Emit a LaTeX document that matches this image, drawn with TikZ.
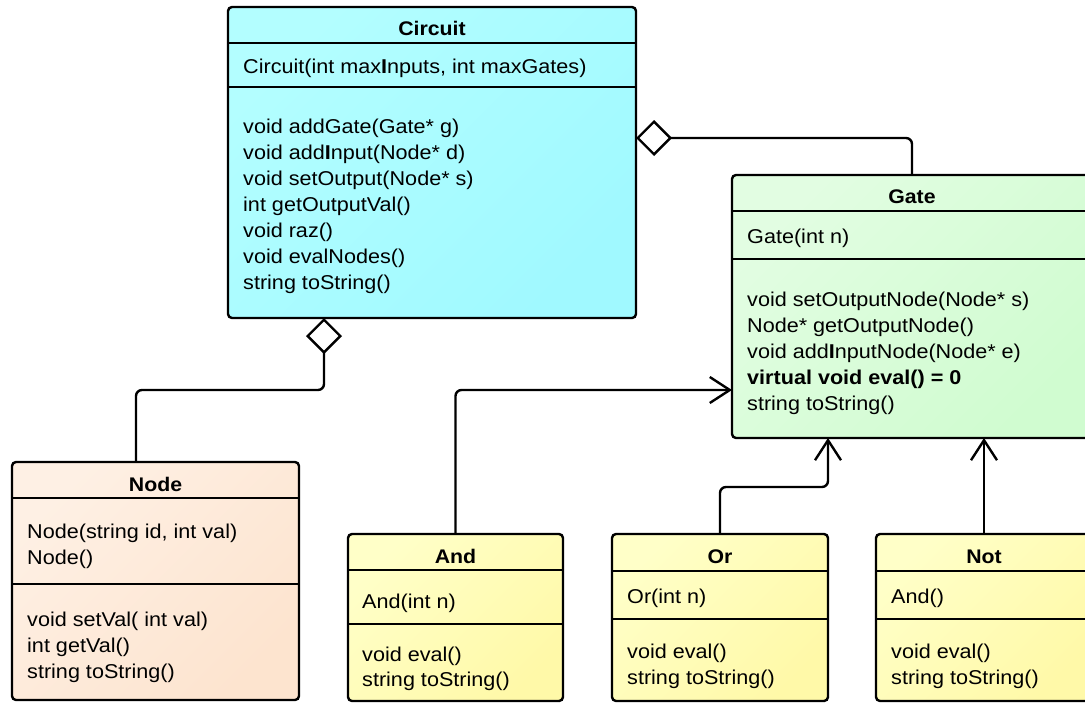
\documentclass[tikz,border=0pt]{standalone}
\usepackage{fontspec}
\setmainfont[FakeStretch=1.08]{Liberation Sans}
\usetikzlibrary{arrows.meta}

\definecolor{cyanA}{HTML}{B3FEFF}
\definecolor{cyanB}{HTML}{A0F9FF}
\definecolor{greenA}{HTML}{E2FDE2}
\definecolor{greenB}{HTML}{D0FCD0}
\definecolor{peachA}{HTML}{FEF0E4}
\definecolor{peachB}{HTML}{FDE4CF}
\definecolor{yellowA}{HTML}{FFFFC8}
\definecolor{yellowB}{HTML}{FFF9A8}

\begin{document}
\begin{tikzpicture}[x=1pt,y=-1pt,
  classbox/.style={draw=black, line width=2.4pt, rounded corners=4pt,
                   inner sep=0pt, outer sep=0pt, anchor=north west},
  cyanfill/.style={top color=cyanA, bottom color=cyanB, shading angle=45},
  greenfill/.style={top color=greenA, bottom color=greenB, shading angle=45},
  peachfill/.style={top color=peachA, bottom color=peachB, shading angle=45},
  yellowfill/.style={top color=yellowA, bottom color=yellowB, shading angle=45},
  divider/.style={line width=2.4pt},
  title/.style={font=\fontsize{19.7}{24}\selectfont\bfseries, anchor=base, inner sep=0pt},
  txt/.style={font=\fontsize{20}{24}\selectfont, anchor=base west, inner sep=0pt},
  link/.style={line width=2.4pt, rounded corners=6pt},
  agg/.style={link, -{Diamond[open, fill=white, length=36pt, width=36pt]}},
  inh/.style={link, -{Straight Barb[length=20pt, width=26pt]}},
]
\useasboundingbox (0,0) rectangle (1085,702);

% ---- class Circuit ----
\node[classbox, cyanfill, minimum width=408pt, minimum height=311pt] (circuit) at (228,7) {};
\draw[divider] (circuit.west |- 0,43) -- (circuit.east |- 0,43);
\draw[divider] (circuit.west |- 0,87) -- (circuit.east |- 0,87);
\node[title] (circuitT) at (432,35) {Circuit};
\node[txt] (circuitC) at (243,73) {Circuit(int max\textbf{I}nputs, int maxGates)};
\foreach \t [count=\i] in {void addGate(Gate* g), void add\textbf{I}nput(Node* d),
    void setOutput(Node* s), int getOutputVal(), void raz(), void evalNodes(),
    string toString()}
  \node[txt] (circuitM\i) at (243,{107+26*\i}) {\t};

% ---- class Gate ----
\node[classbox, greenfill, minimum width=360pt, minimum height=263pt] (gate) at (732,175) {};
\draw[divider] (gate.west |- 0,211) -- (gate.east |- 0,211);
\draw[divider] (gate.west |- 0,259) -- (gate.east |- 0,259);
\node[title] (gateT) at (912,203) {Gate};
\node[txt] (gateC) at (747,243) {Gate(int n)};
\foreach \t [count=\i] in {void setOutputNode(Node* s), Node* getOutputNode(),
    void add\textbf{I}nputNode(Node* e), \textbf{virtual void eval() = 0},
    string toString()}
  \node[txt] (gateM\i) at (747,{280+26*\i}) {\t};

% ---- class Node ----
\node[classbox, peachfill, minimum width=287pt, minimum height=238pt] (nodecls) at (12,462) {};
\draw[divider] (nodecls.west |- 0,498) -- (nodecls.east |- 0,498);
\draw[divider] (nodecls.west |- 0,584) -- (nodecls.east |- 0,584);
\node[title] (nodeT) at (155.5,491) {Node};
\node[txt] (nodeC1) at (27,538) {Node(string id, int val)};
\node[txt] (nodeC2) at (27,564) {Node()};
\foreach \t [count=\i] in {void setVal( int val), int getVal(), string toString()}
  \node[txt] (nodeM\i) at (27,{600+26*\i}) {\t};

% ---- class And ----
\node[classbox, yellowfill, minimum width=215pt, minimum height=167pt] (andcls) at (348,534) {};
\draw[divider] (andcls.west |- 0,570) -- (andcls.east |- 0,570);
\draw[divider] (andcls.west |- 0,624) -- (andcls.east |- 0,624);
\node[title] (andT) at (455.5,563) {And};
\node[txt] (andC) at (362,608) {And(int n)};
\node[txt] (andM1) at (362,661) {void eval()};
\node[txt] (andM2) at (362,686) {string toString()};

% ---- class Or ----
\node[classbox, yellowfill, minimum width=216pt, minimum height=167pt] (orcls) at (612,534) {};
\draw[divider] (orcls.west |- 0,571) -- (orcls.east |- 0,571);
\draw[divider] (orcls.west |- 0,619) -- (orcls.east |- 0,619);
\node[title] (orT) at (720,563) {Or};
\node[txt] (orC) at (627,603) {Or(int n)};
\node[txt] (orM1) at (627,658) {void eval()};
\node[txt] (orM2) at (627,684) {string toString()};

% ---- class Not ----
\node[classbox, yellowfill, minimum width=216pt, minimum height=167pt] (notcls) at (876,534) {};
\draw[divider] (notcls.west |- 0,571) -- (notcls.east |- 0,571);
\draw[divider] (notcls.west |- 0,619) -- (notcls.east |- 0,619);
\node[title] (notT) at (984,563) {Not};
\node[txt] (notC) at (891,603) {And()};
\node[txt] (notM1) at (891,658) {void eval()};
\node[txt] (notM2) at (891,684) {string toString()};

% ---- aggregations ----
\draw[agg] (gate.north) |- ([yshift=-131pt]circuit.north east);
\coordinate (nbend) at (324,390);
\draw[agg] ([xshift=124pt]nodecls.north west) |- (nbend) -- (nbend |- circuit.south);

% ---- generalisations ----
\draw[inh] (andcls.north) |- ([yshift=-215pt]gate.north west);
\coordinate (obend) at (828,487);
\draw[inh] (orcls.north) |- (obend) -- (obend |- gate.south);
\draw[inh] (notcls.north) -- (notcls.north |- gate.south);
\end{tikzpicture}
\end{document}
